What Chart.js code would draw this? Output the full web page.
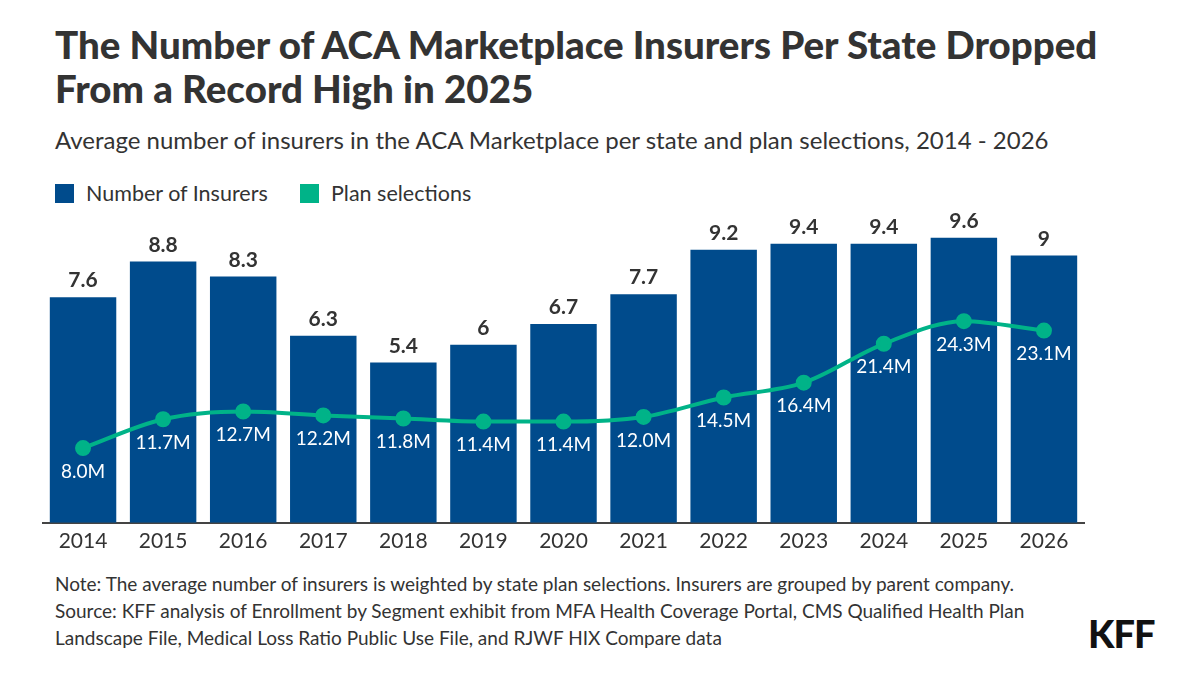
<!DOCTYPE html>
<html><head><meta charset="utf-8">
<script src="https://cdn.jsdelivr.net/npm/chart.js@4"></script>
<style>
body{margin:0;width:1200px;height:675px;background:#fff;font-family:Lato,"Noto Sans",sans-serif;color:#222;position:relative;overflow:hidden}
h1{position:absolute;left:55px;top:22px;margin:0;font-size:38.5px;line-height:44px;font-weight:900;color:#333}
.sub{position:absolute;left:55px;top:125px;font-size:24px;color:#333}
.leg{position:absolute;top:180px;font-size:21.5px;color:#333;display:flex;align-items:center}
.leg i{display:inline-block;width:19px;height:19px;margin-right:12px}
.note{position:absolute;left:55px;top:570px;font-size:19px;line-height:27px;color:#333}
.kff{position:absolute;left:1088px;top:610px;font-size:38px;font-weight:900;color:#111;letter-spacing:-1px}
#wrap{position:absolute;left:33px;top:210px;width:1061px;height:350px}
</style></head><body>
<h1>The Number of ACA Marketplace Insurers Per State Dropped<br>From a Record High in 2025</h1>
<div class="sub">Average number of insurers in the ACA Marketplace per state and plan selections, 2014 - 2026</div>
<div class="leg" style="left:55px"><i style="background:#004b8c"></i>Number of Insurers</div>
<div class="leg" style="left:300px"><i style="background:#00b388"></i>Plan selections</div>
<div id="wrap"><canvas id="c"></canvas></div>
<div class="note">Note: The average number of insurers is weighted by state plan selections. Insurers are grouped by parent company.<br>Source: KFF analysis of Enrollment by Segment exhibit from MFA Health Coverage Portal, CMS Qualified Health Plan<br>Landscape File, Medical Loss Ratio Public Use File, and RJWF HIX Compare data</div>
<div class="kff">KFF</div>
<script>
const years = ['2014','2015','2016','2017','2018','2019','2020','2021','2022','2023','2024','2025','2026'];
const insurers = [7.6, 8.8, 8.3, 6.3, 5.4, 6, 6.7, 7.7, 9.2, 9.4, 9.4, 9.6, 9];
const selections = [8.0, 11.7, 12.7, 12.2, 11.8, 11.4, 11.4, 12.0, 14.5, 16.4, 21.4, 24.3, 23.1];

const labelPlugin = {
  id: 'labels',
  afterDatasetsDraw(chart) {
    const ctx = chart.ctx;
    ctx.save();
    ctx.textAlign = 'center';
    chart.getDatasetMeta(1).data.forEach((b, i) => {
      ctx.font = 'bold 21px Lato, sans-serif';
      ctx.fillStyle = '#333';
      ctx.textBaseline = 'bottom';
      ctx.fillText(String(insurers[i]), b.x, b.y - 6);
    });
    chart.getDatasetMeta(0).data.forEach((p, i) => {
      ctx.font = '19px Lato, sans-serif';
      ctx.fillStyle = '#fff';
      ctx.textBaseline = 'top';
      ctx.fillText(selections[i].toFixed(1) + 'M', p.x, p.y + 14);
    });
    ctx.restore();
  }
};

new Chart(document.getElementById('c'), {
  data: {
    labels: years,
    datasets: [
      { type: 'line', data: selections, yAxisID: 'y2', borderColor: '#00b388', backgroundColor: '#00b388',
        borderWidth: 4, pointRadius: 6, cubicInterpolationMode: 'monotone', order: 0 },
      { type: 'bar', data: insurers, yAxisID: 'y', backgroundColor: '#004b8c',
        categoryPercentage: 1, barPercentage: 0.83, order: 1 }
    ]
  },
  options: {
    responsive: true, maintainAspectRatio: false, animation: false,
    layout: { padding: 0 },
    plugins: { legend: { display: false }, tooltip: { enabled: false } },
    scales: {
      x: { grid: { display: false, drawTicks: false }, border: { color: '#444', width: 2 },
           ticks: { color: '#333', font: { size: 21, family: 'Lato' }, padding: 6 } },
      y: { display: false, min: 0, max: 10.2 },
      y2: { display: false, min: -1.6, max: 37.3 }
    }
  },
  plugins: [labelPlugin]
});
</script>
</body></html>
